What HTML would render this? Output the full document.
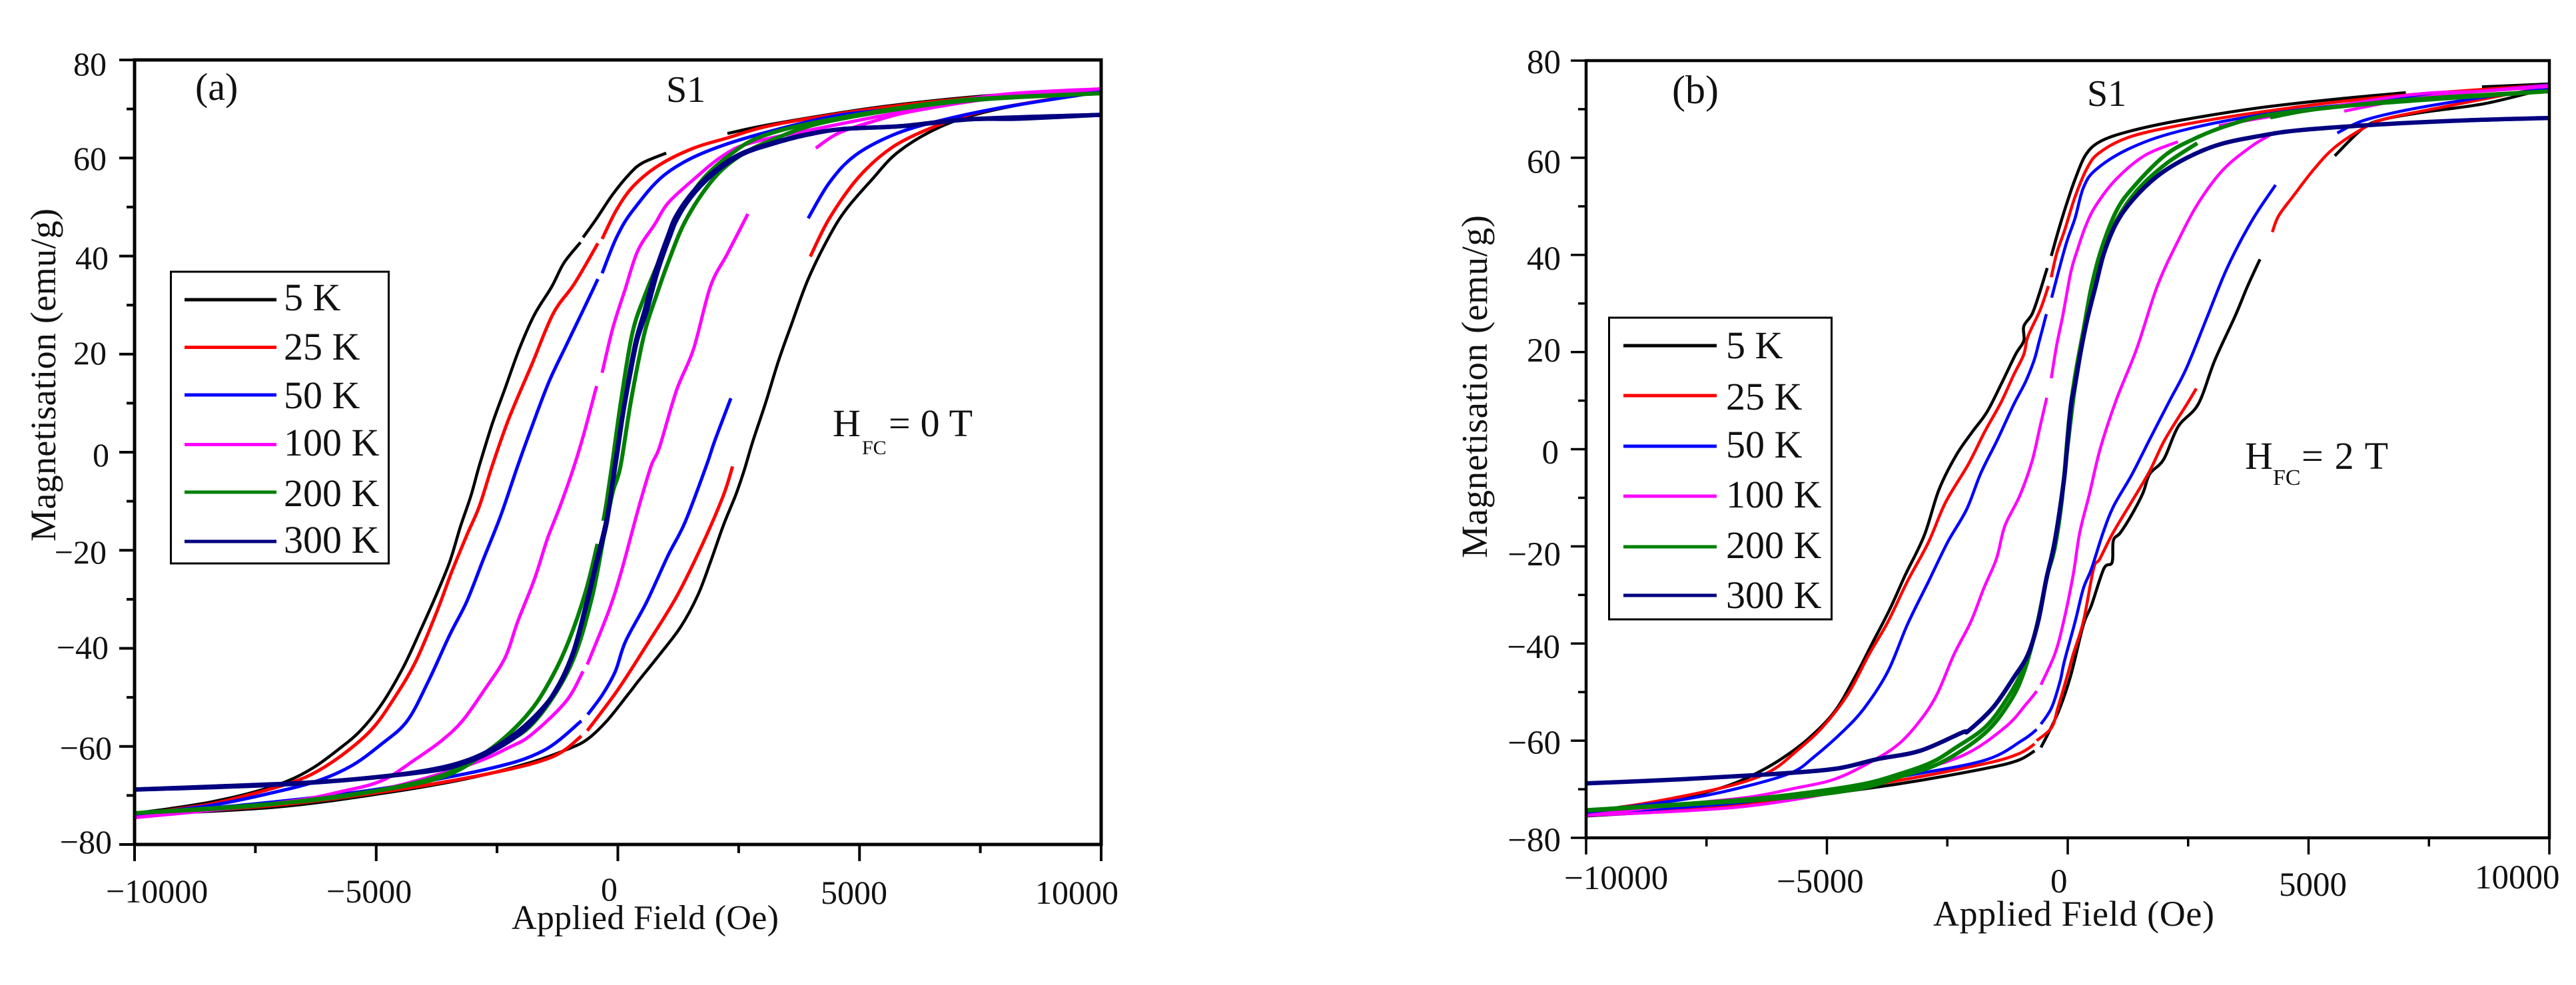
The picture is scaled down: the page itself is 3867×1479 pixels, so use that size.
<!DOCTYPE html>
<html lang="en">
<head>
<meta charset="utf-8">
<title>Magnetisation hysteresis loops S1</title>
<style>
html,body{margin:0;padding:0;background:#fff;width:3867px;height:1479px;overflow:hidden}
svg{display:block}
text{font-family:"Liberation Serif",serif;fill:#111}
.tick{font-size:50px}
.tickb{font-size:51px}
.axt{font-size:52px}
.leg{font-size:58px}
.ann{font-size:58px}
.sub{font-size:30px}
</style>
</head>
<body>
<svg id="chart" xmlns="http://www.w3.org/2000/svg" width="3867" height="1479" viewBox="0 0 3867 1479">
<rect x="0" y="0" width="3867" height="1479" fill="#fff"/>
<g id="curves-a"></g>
<g id="curves-b"></g>
<g id="axes"></g>

<g class="tick" text-anchor="end">
<text class="tick" x="160" y="113">80</text>
<text class="tick" x="160" y="255">60</text>
<text class="tick" x="163" y="404">40</text>
<text class="tick" x="160" y="547">20</text>
<text class="tick" x="164" y="700">0</text>
<text class="tick" x="160" y="846">−20</text>
<text class="tick" x="163" y="989">−40</text>
<text class="tick" x="168" y="1140">−60</text>
<text class="tick" x="168" y="1281">−80</text>
</g>
<g>
<text class="tick" x="159" y="1355">−10000</text>
<text class="tick" x="490" y="1355">−5000</text>
<text class="tick" x="902" y="1352">0</text>
<text class="tick" x="1232" y="1357">5000</text>
<text class="tick" x="1554" y="1357">10000</text>
</g>
<text class="axt" x="768" y="1395" textLength="401">Applied Field (Oe)</text>
<text class="axt" style="font-size:54px" transform="translate(83 813) rotate(-90)" textLength="500">Magnetisation (emu/g)</text>
<text class="ann" x="293" y="150">(a)</text>
<text class="ann" style="font-size:56px" x="1000" y="153">S1</text>
<g>
<text class="ann" x="1250" y="655">H</text>
<text class="sub" x="1294" y="682">FC</text>
<text class="ann" x="1334" y="655" textLength="126">= 0 T</text>
</g>

<g>
<rect x="256.5" y="408" width="327" height="438" fill="#fff" stroke="#000" stroke-width="3"/>
<line x1="277" x2="415" y1="450" y2="450" stroke="#000" stroke-width="5"/>
<text class="leg" x="426" y="466">5 K</text>
<line x1="277" x2="415" y1="521.5" y2="521.5" stroke="#f00" stroke-width="5"/>
<text class="leg" x="426" y="540">25 K</text>
<line x1="277" x2="415" y1="593" y2="593" stroke="#00f" stroke-width="5"/>
<text class="leg" x="426" y="613">50 K</text>
<line x1="277" x2="415" y1="667.5" y2="667.5" stroke="#f0f" stroke-width="5"/>
<text class="leg" x="426" y="684">100 K</text>
<line x1="277" x2="415" y1="739" y2="739" stroke="#008000" stroke-width="5"/>
<text class="leg" x="426" y="760">200 K</text>
<line x1="277" x2="415" y1="813" y2="813" stroke="#000080" stroke-width="5"/>
<text class="leg" x="426" y="830">300 K</text>
</g>

<g text-anchor="end">
<text class="tickb" x="2343" y="110">80</text>
<text class="tickb" x="2343" y="260">60</text>
<text class="tickb" x="2343" y="405">40</text>
<text class="tickb" x="2343" y="543">20</text>
<text class="tickb" x="2340" y="696">0</text>
<text class="tickb" x="2343" y="849">−20</text>
<text class="tickb" x="2342" y="988">−40</text>
<text class="tickb" x="2343" y="1132">−60</text>
<text class="tickb" x="2343" y="1278">−80</text>
</g>
<g>
<text class="tickb" x="2348" y="1335">−10000</text>
<text class="tickb" x="2667" y="1340">−5000</text>
<text class="tickb" x="3078" y="1340">0</text>
<text class="tickb" x="3421" y="1345">5000</text>
<text class="tickb" x="3715" y="1334">10000</text>
</g>
<text class="axt" x="2902" y="1390" textLength="422" style="font-size:54px">Applied Field (Oe)</text>
<text class="axt" style="font-size:55px" transform="translate(2232 838) rotate(-90)" textLength="515">Magnetisation (emu/g)</text>
<text class="ann" x="2510" y="155" style="font-size:60px">(b)</text>
<text class="ann" style="font-size:56px" x="3133" y="159">S1</text>
<g>
<text class="ann" x="3370" y="704">H</text>
<text class="sub" style="font-size:34px" x="3412" y="728">FC</text>
<text class="ann" x="3455" y="704" textLength="130">= 2 T</text>
</g>

<g>
<rect x="2415.5" y="477" width="334" height="453" fill="#fff" stroke="#000" stroke-width="3"/>
<line x1="2437" x2="2577" y1="519" y2="519" stroke="#000" stroke-width="5"/>
<text class="leg" x="2591" y="538">5 K</text>
<line x1="2437" x2="2577" y1="594" y2="594" stroke="#f00" stroke-width="5"/>
<text class="leg" x="2591" y="615">25 K</text>
<line x1="2437" x2="2577" y1="670" y2="670" stroke="#00f" stroke-width="5"/>
<text class="leg" x="2591" y="687">50 K</text>
<line x1="2437" x2="2577" y1="745" y2="745" stroke="#f0f" stroke-width="5"/>
<text class="leg" x="2591" y="762">100 K</text>
<line x1="2437" x2="2577" y1="821" y2="821" stroke="#008000" stroke-width="5"/>
<text class="leg" x="2591" y="838">200 K</text>
<line x1="2437" x2="2577" y1="894" y2="894" stroke="#000080" stroke-width="5"/>
<text class="leg" x="2591" y="913">300 K</text>
</g>
</svg>

<script>
// Axis tick values
const xMajorTicks = [-10000, -5000, 0, 5000, 10000];
const xMinorTicks = [-7500, -2500, 2500, 7500];
const yMajorTicks = [80, 60, 40, 20, 0, -20, -40, -60, -80];
const yMinorTicks = [70, 50, 30, 10, -10, -30, -50, -70];

// Panel (a), HFC = 0 T. Each series is a list of segments of [field Oe, magnetisation emu/g].
const a5K = [
 [[10000,73.8],[7900,72.9],[5500,70.5],[3300,67.1],[2268,65]],
 [[1000,61],[510,59],[246,56.8],[-105,52.6],[-457,47.4],[-720,43.8]],
 [[-773,42.8],[-1116,38.6],[-1371,33.7],[-1723,28.1],[-2030,21.3],[-2338,12.9],[-2602,5.7],[-2865,-2.7],[-3041,-8.9],[-3261,-15.3],[-3481,-22.4],[-3788,-29.8],[-4096,-36.6],[-4448,-44],[-4887,-51.4],[-5327,-56.8],[-5766,-60.5],[-6293,-64.3],[-6821,-67],[-7524,-69.3],[-8403,-71.3],[-9282,-72.7],[-10000,-73.6]],
 [[-10000,-74],[-7084,-72.4],[-4887,-69.6],[-3129,-66.6],[-1811,-63.3],[-1020,-60.5],[-624,-58.5],[-229,-54.8],[211,-49.4],[422,-46.7],[861,-41.3],[1301,-35.6],[1653,-29.2],[1916,-22.4],[2180,-15],[2444,-8.6],[2620,-3.5],[2795,2.3],[3059,10.1],[3323,18.6],[3586,25.9],[3938,35.3],[4378,44.1],[4730,49.6],[5257,55.6],[5784,61.1],[6575,65.9],[7454,69],[8773,71.7],[10000,73.5]]
];
const a25K = [
 [[10000,73.6],[7900,72.7],[5500,70.3],[3300,66.9],[2268,64.1],[1565,62],[861,58.6],[334,54.4],[-18,49.6],[-325,43.5]],
 [[-413,42.6],[-897,34.4],[-1336,28.3],[-1776,18],[-2250,7],[-2602,-2.85],[-2865,-11],[-3129,-17],[-3437,-24.4],[-3745,-32.5],[-4184,-42.7],[-4624,-50.1],[-5063,-56.2],[-5590,-60.9],[-6206,-65],[-6733,-67.3],[-7524,-69.6],[-8403,-71.7],[-9282,-73],[-10000,-73.9]],
 [[-10000,-74],[-7084,-72],[-4887,-69.3],[-2690,-65.6],[-1371,-62.2],[-756,-57.9]],
 [[-633,-56.8],[-18,-48.7],[598,-39.3],[1213,-29.5],[1740,-19],[2180,-8.9],[2373,-2.9]],
 [[3982,39.9],[4378,47.7],[4993,56.2],[5696,62.3],[6575,66.5],[7454,69.3],[8773,71.7],[10000,73.5]]
];
const a50K = [
 [[10000,73.6],[7900,72.2],[5500,69.8],[4202,68],[2180,62.6],[1037,57.1],[334,49.6],[-18,44],[-325,36.5]],
 [[-413,35.3],[-721,28.9],[-1072,21.7],[-1424,14.4],[-1776,5.3],[-2074,-2.85],[-2426,-13],[-2778,-21.7],[-3129,-30.5],[-3481,-37.3],[-3920,-46.7],[-4360,-54.8],[-4887,-59.5],[-5503,-63.9],[-6206,-67],[-7084,-69.3],[-8403,-72],[-10000,-73.9]],
 [[-10000,-74],[-7084,-71.3],[-4887,-68.6],[-2690,-64.6],[-1547,-60.9],[-756,-54.8]],
 [[-624,-53.5],[-316,-49.4],[-53,-44.7],[158,-38.6],[598,-30.5],[1037,-21.1],[1389,-14.3],[1828,-2.85],[2004,2.3],[2338,11]],
 [[3938,47.7],[4378,55],[4905,60.5],[5696,64.7],[6575,67.4],[7893,70.2],[10000,73.5]]
];
const a100K = [
 [[10000,74.1],[7893,72.9],[6135,69.9],[4378,66.5],[2795,63.2],[2180,60.5],[1565,55.6],[1037,50.8],[765,46.5],[413,41.1],[150,33.2],[-105,25.3],[-325,16.2]],
 [[-440,13.5],[-677,4.7],[-897,-2.6],[-1195,-11],[-1459,-17.7],[-1723,-25.8],[-2074,-34.6],[-2338,-42],[-2778,-48.7],[-3217,-54.8],[-3657,-58.9],[-4184,-62.6],[-4887,-67],[-5766,-69.3],[-6645,-71],[-8403,-73],[-10000,-74.5]],
 [[-10000,-74.5],[-7084,-71.7],[-5000,-69],[-3129,-63.9],[-2250,-60.2],[-1776,-57.5],[-1072,-50.8],[-721,-44.7]],
 [[-633,-43.3],[-193,-32.5],[70,-24.4],[422,-11.6],[686,-2.85],[861,1],[1213,12.6],[1565,21],[1916,33.8],[2268,40.5],[2690,48.6]],
 [[4096,62],[4553,65],[5257,67.4],[6135,69.6],[7893,72.3],[10000,74.1]]
];
const a200K = [
 [[10000,73.2],[7014,71.7],[4378,67.8],[3000,64.5],[2300,60.5],[1700,55],[1200,47],[850,39],[560,32],[300,24.3],[69,10.7],[-124,-2.85],[-230,-10],[-300,-14]],
 [[-422,-18.7],[-668,-28.5],[-1020,-38.6],[-1371,-46],[-1811,-52.8],[-2426,-58.9],[-3129,-63.6],[-4008,-67],[-5766,-70.3],[-7524,-72],[-10000,-73.6]],
 [[-10000,-73.6],[-7084,-71.7],[-3900,-67],[-2600,-60.5],[-1776,-55.5],[-1000,-44],[-545,-30],[-250,-15],[-100,-8],[55,-2.85],[276,10.7],[551,24.3],[800,32],[1037,38.6],[1389,47],[1916,55],[2444,59.9],[3147,63.5],[4378,67.5],[7014,71.5],[10000,73.2]]
];
const a300K = [
 [[10000,68.8],[9739,68.7],[8245,68],[7278,67.9],[5872,66.5],[4641,65.9],[3850,64.7],[3147,62.9],[2532,60.8],[2004,57.4],[1565,53.2],[1213,48.3],[1037,44.1],[774,36.8],[554,28.9],[378,22.9],[235,15.6],[90,7],[-62,-2.6],[-229,-14.3],[-448,-23],[-668,-31.9],[-932,-41.3],[-1283,-48.7],[-1811,-54.8],[-2426,-59.5],[-3129,-62.9],[-4008,-65],[-5327,-66.6],[-6645,-67.5],[-8403,-68.2],[-10000,-68.8]],
 [[-10000,-68.8],[-6645,-67.6],[-4008,-65.2],[-3129,-63.2],[-2426,-60],[-1811,-55.5],[-1283,-48.5],[-932,-41],[-668,-31.5],[-448,-22.5],[-229,-13.5],[-40,-2],[110,8],[250,15.6],[400,22.9],[600,28.9],[820,36.8],[1080,44.1],[1260,48.3],[1610,53.2],[2050,57.4],[2580,60.8],[3200,62.9],[3900,64.7],[4641,65.9],[5872,66.5],[7278,67.9],[10000,68.8]]
];

// Panel (b), HFC = 2 T
const b5K = [
 [[10000,75.2],[8600,74.6]],
 [[7020,73.4],[5698,72.2],[3992,70.3],[2286,67.6],[1262,65.4],[665,63.3],[367,60.5],[154,55.6],[-17,50.7],[-188,45.2],[-341,39.8]],
 [[-426,37.3],[-597,31.8],[-742,27.8],[-913,25.3],[-913,22.3],[-1084,19.5],[-1382,13.4],[-1680,7.6],[-1979,3.6],[-2320,-1.3],[-2672,-8.3],[-2981,-17.8],[-3378,-26],[-3687,-32.8],[-4040,-39.6],[-4392,-46.4],[-4833,-53.9],[-5362,-59.4],[-5892,-63.4],[-6421,-66.5],[-7038,-69.2],[-7920,-71.6],[-8802,-73],[-10000,-74.7]],
 [[-10000,-75.5],[-7038,-73.7],[-5274,-71.3],[-3510,-68.9],[-1746,-65.8],[-1041,-64.1],[-688,-62.1]],
 [[-556,-61.4],[-379,-58],[-159,-53.2],[68,-46.4],[324,-36.2],[494,-32.1],[750,-24.6],[921,-23.3],[947,-18.8],[1093,-17.2],[1328,-13.5],[1563,-9],[1701,-5.1],[1992,-2.1],[2296,4.7],[2711,9.3],[3054,18.3],[3480,27.5],[3736,33.6],[3992,39.1]],
 [[5545,60.4],[6124,66],[6551,67.9],[7404,69.4],[8683,71.2],[10000,74.4]]
];
const b25K = [
 [[10000,75],[6551,72.5],[3992,69.4],[2286,66.6],[1262,64.2],[665,61.1],[409,58],[154,52],[-60,45.2],[-230,40.3],[-341,35.4]],
 [[-401,33.6],[-571,28.7],[-827,23.2],[-913,19.5],[-1126,15.2],[-1382,9.7],[-1723,3.6],[-2064,-3.1],[-2540,-11],[-2893,-19.2],[-3334,-27.3],[-3731,-35.5],[-4128,-42.3],[-4569,-50.5],[-5098,-57.3],[-5627,-62.1],[-6156,-66.2],[-6862,-68.9],[-7920,-71.3],[-9243,-73.7],[-10000,-74.7]],
 [[-10000,-75.3],[-7038,-73.3],[-5274,-70.9],[-3510,-68.2],[-1746,-64.8],[-1041,-62.8],[-688,-60.7]],
 [[-644,-60],[-335,-57.3],[-203,-53.2],[18,-45.7],[111,-42.3],[324,-35.5],[537,-24.6],[665,-22.6],[940,-17.2],[1328,-10.8],[1701,-4.5],[2019,2],[2476,9.3],[2670,12.5]],
 [[4248,44.7],[4376,48],[4674,52],[5101,57.5],[5527,62],[6124,66],[6551,67.9],[7404,69.7],[9110,73],[10000,74.6]]
];
const b50K = [
 [[10000,75],[6551,71.8],[3992,68.8],[2286,65.4],[1262,61.8],[580,57.5],[324,53.8],[154,47.6],[-17,42.8],[-188,36.7],[-333,31.2]],
 [[-444,27.8],[-597,22],[-699,18.3],[-870,14],[-1126,9.1],[-1467,1.8],[-1808,-5],[-2099,-12.4],[-2496,-19.2],[-2893,-27.3],[-3334,-36.2],[-3731,-45.7],[-4216,-53.2],[-4657,-58],[-5274,-63.4],[-5715,-66.5],[-6597,-69.2],[-7920,-72],[-10000,-74.7]],
 [[-10000,-75],[-7038,-73],[-5274,-70.6],[-3510,-67.5],[-1746,-64.1],[-953,-60],[-644,-57.7]],
 [[-556,-56.6],[-335,-53.2],[-159,-47.8],[-71,-43.7],[154,-35.5],[324,-28.7],[494,-24.6],[733,-17.2],[954,-11.7],[1328,-5.3],[1701,2],[2116,10],[2457,16.5],[2883,26.9],[3310,37.3],[3821,47],[4316,54.4]],
 [[5596,65.1],[6124,67.6],[6978,69.7],[8257,71.9],[10000,74.3]]
];
const b100K = [
 [[10000,74.7],[8598,73.7],[7063,72.9],[4163,68.4],[3139,66.6]],
 [[2286,63.3],[1604,60.5],[1007,55.6],[580,50.1],[367,45.8],[196,40.9],[68,36.6],[-102,27.5],[-230,21.4],[-341,14.6]],
 [[-435,10.6],[-571,4.8],[-742,-2.5],[-997,-9.6],[-1305,-15.8],[-1482,-22.6],[-1746,-28.7],[-2011,-35.5],[-2364,-42.3],[-2717,-50.5],[-3069,-55.9],[-3510,-60.7],[-4040,-64.1],[-4833,-67.9],[-5715,-69.9],[-6597,-71.6],[-7920,-73],[-10000,-75.4]],
 [[-10000,-75.4],[-6862,-73.7],[-4500,-70],[-3510,-67.2],[-2187,-63.1],[-1305,-57.3],[-864,-52.5],[-644,-49.8]],
 [[-556,-48.5],[-273,-42.3],[-102,-36.2],[111,-26],[249,-17.2],[456,-9],[678,0.2],[1010,10.2],[1433,20.7],[1860,33.6],[2286,42.8],[2713,50.7],[3224,57.5],[3821,62.4],[4316,65.3]],
 [[5741,69.6],[6679,71.4],[7831,73],[10000,74.9]]
];
const b200K = [
 [[10000,73.7],[7404,72.2],[5698,70.6],[4163,68.8],[3310,66.6],[2627,63.9],[2019,60.5],[1348,53.8],[1007,49],[708,41.5],[495,33.6],[324,24.4],[154,15.2],[26,6],[-119,-10.3],[-273,-20.5],[-444,-26.7],[-657,-36.9],[-913,-45],[-1297,-51.9],[-1723,-57.3],[-2320,-61.4],[-2832,-64.5],[-3510,-66.9],[-4392,-69.2],[-6156,-71.6],[-7920,-73],[-10000,-74.3]],
 [[-10000,-74.4],[-6156,-72],[-4392,-70],[-3510,-67.5],[-2628,-64.5],[-1723,-58.5],[-1200,-52],[-913,-46],[-657,-37],[-444,-27],[-273,-19],[-119,-9],[26,3],[154,13],[324,23],[495,32],[708,40],[1007,47],[1433,53.2],[2019,58.6],[2690,63]],
 [[4205,68.3],[5698,70.6],[10000,73.7]]
];
const b300K = [
 [[10000,68.2],[8257,67.7],[6551,66.9],[4845,65.7],[3992,64.5],[3139,62.7],[2457,59.9],[1860,56.2],[1348,51.3],[1007,46.5],[751,40.3],[580,33.6],[409,26.9],[282,20.8],[154,13.4],[68,9.1],[-17,-0.1],[-85,-6.9],[-273,-19.2],[-444,-26.7],[-614,-35.5],[-827,-42.3],[-1126,-47.1],[-1553,-53.2],[-2064,-58],[-2187,-58.3],[-3069,-62.1],[-3951,-63.8],[-4833,-65.8],[-6156,-66.9],[-7920,-67.9],[-10000,-68.8]]
];

const seriesColors = ['#000000', '#ff0000', '#0000ff', '#ff00ff', '#008000', '#000080'];
const seriesNames = ['5k', '25k', '50k', '100k', '200k', '300k'];
const seriesDataA = [a5K, a25K, a50K, a100K, a200K, a300K];
const seriesDataB = [b5K, b25K, b50K, b100K, b200K, b300K];
const widthsA = [4.5, 5, 5, 5, 6, 6.5];
const widthsB = [4.5, 4.5, 4.5, 4.5, 6, 6.5];

const NS = 'http://www.w3.org/2000/svg';

function makeAxis(domain0, domain1, range0, range1) {
  return function (v) { return range0 + (v - domain0) / (domain1 - domain0) * (range1 - range0); };
}
const xA = makeAxis(-10000, 10000, 202, 1653);
const yA = makeAxis(80, -80, 90, 1268);
const xB = makeAxis(-10000, 10000, 2381, 3827);
const yB = makeAxis(80, -80, 91, 1258);

// Catmull-Rom smoothing through the mapped data points
function smoothPath(segment, xf, yf) {
  const pts = segment.map(function (p) { return [xf(p[0]), yf(p[1])]; });
  let d = 'M' + pts[0][0].toFixed(1) + ' ' + pts[0][1].toFixed(1);
  for (let i = 0; i < pts.length - 1; i++) {
    const p0 = pts[Math.max(i - 1, 0)];
    const p1 = pts[i];
    const p2 = pts[i + 1];
    const p3 = pts[Math.min(i + 2, pts.length - 1)];
    const c1x = p1[0] + (p2[0] - p0[0]) / 6;
    const c1y = p1[1] + (p2[1] - p0[1]) / 6;
    const c2x = p2[0] - (p3[0] - p1[0]) / 6;
    const c2y = p2[1] - (p3[1] - p1[1]) / 6;
    d += 'C' + c1x.toFixed(1) + ' ' + c1y.toFixed(1) + ' ' + c2x.toFixed(1) + ' ' + c2y.toFixed(1) + ' ' + p2[0].toFixed(1) + ' ' + p2[1].toFixed(1);
  }
  return d;
}

function drawCurves(parent, prefix, data, widths, xf, yf) {
  data.forEach(function (segments, i) {
    const group = document.createElementNS(NS, 'g');
    
    
    segments.forEach(function (segment, j) {
      const line = document.createElementNS(NS, 'path');
      
      
      line.setAttribute('d', smoothPath(segment, xf, yf));
      line.setAttribute('fill', 'none');
      line.setAttribute('stroke', seriesColors[i]);
      line.setAttribute('stroke-width', widths[i]);
      line.setAttribute('stroke-linejoin', 'round');
      group.appendChild(line);
    });
    parent.appendChild(group);
  });
}

function drawTick(parent, name, x1, y1, x2, y2, w) {
  const t = document.createElementNS(NS, 'line');
  
  
  t.setAttribute('x1', x1);
  t.setAttribute('y1', y1);
  t.setAttribute('x2', x2);
  t.setAttribute('y2', y2);
  t.setAttribute('stroke', '#000');
  t.setAttribute('stroke-width', w);
  parent.appendChild(t);
}

function drawAxes(parent, prefix, xf, yf, w) {
  const l = xf(-10000), r = xf(10000), t = yf(80), b = yf(-80);
  const frame = document.createElementNS(NS, 'rect');
  
  
  frame.setAttribute('x', l);
  frame.setAttribute('y', t);
  frame.setAttribute('width', r - l);
  frame.setAttribute('height', b - t);
  frame.setAttribute('fill', 'none');
  frame.setAttribute('stroke', '#000');
  frame.setAttribute('stroke-width', w);
  parent.appendChild(frame);
  xMajorTicks.forEach(function (v) { drawTick(parent, prefix + '-x-major-tick', xf(v), b, xf(v), b + 25, w - 1); });
  xMinorTicks.forEach(function (v) { drawTick(parent, prefix + '-x-minor-tick', xf(v), b, xf(v), b + 13, w - 1); });
  yMajorTicks.forEach(function (v) { drawTick(parent, prefix + '-y-major-tick', l - 23, yf(v), l, yf(v), w - 1); });
  yMinorTicks.forEach(function (v) { drawTick(parent, prefix + '-y-minor-tick', l - 12, yf(v), l, yf(v), w - 1); });
}

drawCurves(document.getElementById('curves-a'), 'panel-a', seriesDataA, widthsA, xA, yA);
drawCurves(document.getElementById('curves-b'), 'panel-b', seriesDataB, widthsB, xB, yB);
drawAxes(document.getElementById('axes'), 'panel-a', xA, yA, 5);
drawAxes(document.getElementById('axes'), 'panel-b', xB, yB, 4.5);
</script>
</body>
</html>
